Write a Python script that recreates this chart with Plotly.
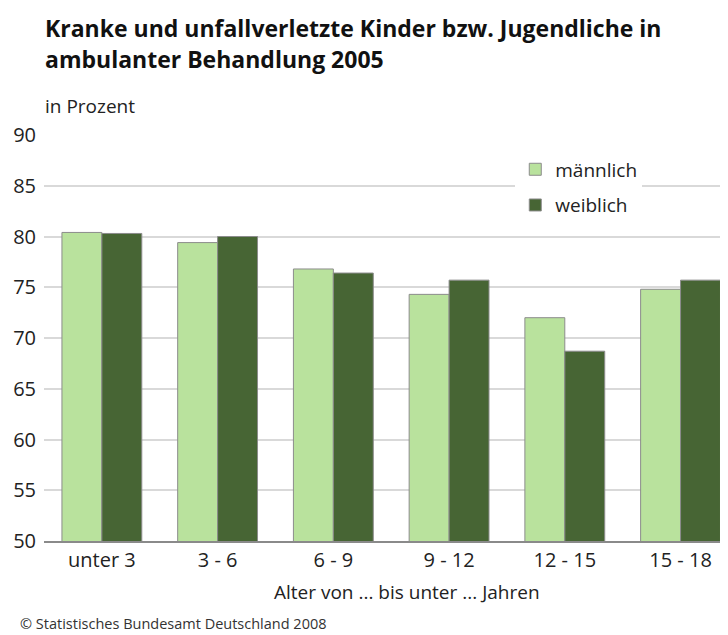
import plotly.graph_objects as go

# Alter (Kategorien) und Anteile in Prozent
age_groups = ["unter 3", "3 - 6", "6 - 9", "9 - 12", "12 - 15", "15 - 18"]
maennlich = [80.4, 79.4, 76.8, 74.3, 72.0, 74.8]
weiblich = [80.3, 80.0, 76.4, 75.7, 68.7, 75.7]

FONT = "Open Sans, Noto Sans, sans-serif"
LIGHT = "#b9e29d"
DARK = "#476534"
OUTLINE = "#8c8c8c"

# the page body adds an 8px margin, so the figure is 8px smaller than the window
W, H = 720, 627

fig = go.Figure()
fig.add_trace(go.Bar(
    x=age_groups, y=maennlich, name="männlich", legendgroup="m",
    marker=dict(color=LIGHT, line=dict(color=OUTLINE, width=1)),
))
fig.add_trace(go.Bar(
    x=age_groups, y=weiblich, name="weiblich", legendgroup="w",
    marker=dict(color=DARK, line=dict(color=OUTLINE, width=1)),
))

fig.update_layout(
    width=W, height=H,
    margin=dict(l=36, r=0, t=127, b=94),
    paper_bgcolor="white", plot_bgcolor="white",
    font=dict(family=FONT, size=19, color="#222222"),
    barmode="group", bargap=0.31, bargroupgap=0,
    legend=dict(
        x=0.689, xanchor="left", y=0.962, yanchor="top",
        bgcolor="white", borderwidth=0,
        font=dict(size=19, color="#222222"),
        tracegroupgap=8, traceorder="grouped",
    ),
    showlegend=True,
)

fig.update_xaxes(
    range=[-0.5, 5.41], showgrid=False, ticks="",
    showline=True, linecolor="#8a8a8a", linewidth=2,
    tickfont=dict(size=20, color="#222222"),
)
fig.update_yaxes(
    range=[50, 90], dtick=5, showgrid=True, gridcolor="#d9d9d9", gridwidth=1.5,
    zeroline=False, ticks="", ticklabelstandoff=7,
    tickfont=dict(size=20, color="#222222"),
)

# title, two lines
for text, y in [("Kranke und unfallverletzte Kinder bzw. Jugendliche in", 1.264),
                ("ambulanter Behandlung 2005", 1.188)]:
    fig.add_annotation(
        text="<b>" + text + "</b>", xref="paper", yref="paper", x=-0.002, y=y,
        xanchor="left", yanchor="middle", showarrow=False,
        font=dict(family=FONT, size=23, color="#111111"),
    )

fig.add_annotation(
    text="in Prozent", xref="paper", yref="paper", x=-0.002, y=1.071,
    xanchor="left", yanchor="middle", showarrow=False,
    font=dict(size=19, color="#222222"),
)
fig.add_annotation(
    text="Alter von ... bis unter ... Jahren", xref="paper", yref="paper",
    x=0.531, y=-0.126, xanchor="center", yanchor="middle", showarrow=False,
    font=dict(size=19, color="#222222"),
)
fig.add_annotation(
    text="© Statistisches Bundesamt Deutschland 2008", xref="paper", yref="paper",
    x=-26 / 684, y=-0.203, xanchor="left", yanchor="middle", showarrow=False,
    font=dict(size=14.5, color="#333333"),
)

fig.write_html("out.html")
